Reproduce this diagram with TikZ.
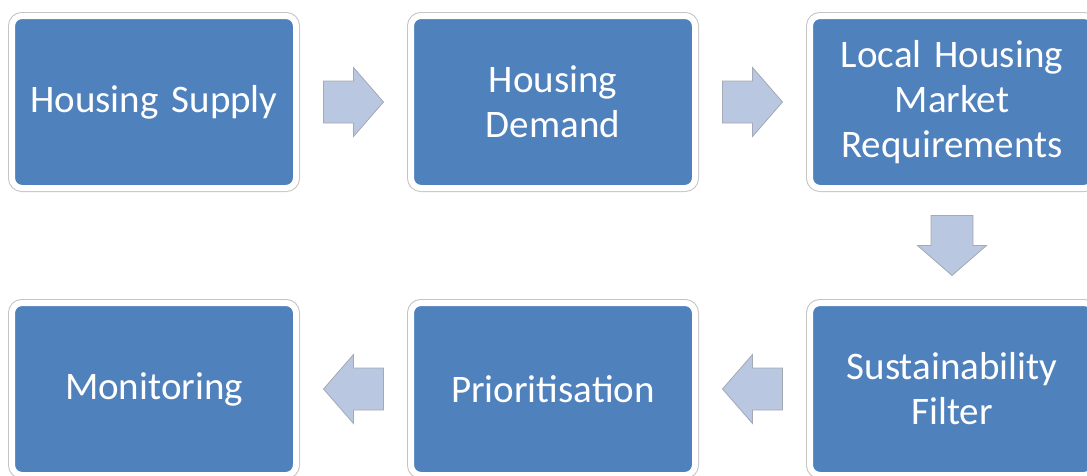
\documentclass[tikz,border=0pt]{standalone}
\usepackage{fontspec}
\setmainfont{Carlito}
\usetikzlibrary{positioning,calc}
\definecolor{stageblue}{HTML}{4F81BD}
\definecolor{framegray}{HTML}{C4C4C4}
\definecolor{arrowfill}{HTML}{B9C7E0}
\definecolor{arrowline}{HTML}{A3A9B5}

\begin{document}
\begin{tikzpicture}[
x=1pt, y=-1pt,
node distance=115pt,
  stage/.style = {rectangle, rounded corners=10pt,% blue boxes with white frame
                  fill=stageblue, draw=white, line width=6pt,
                  preaction={draw=framegray, line width=8pt},
                  minimum width=284pt, minimum height=172pt,
                  inner sep=0pt, outer sep=0pt,
                  text=white, text width=270pt, align=center,
                  font=\fontsize{39}{45}\selectfont},
  flowarrow/.pic = {% block arrow between two stages
      \path[draw=arrowline, fill=arrowfill, line width=0.8pt]
        (-30,-21) -- (0,-21) -- (0,-34.5) -- (30,0)
        -- (0,34.5) -- (0,21) -- (-30,21) -- cycle;
                   },
                        ]
\clip (0,0) rectangle (1087,475);
\node[stage] (supply) at (154,102) {Housing Supply};
\node[stage, right=of supply] (demand) {Housing\\Demand};
\node[stage, right=of demand] (market) {Local Housing\\Market\\Requirements};
\node[stage, below=of market] (filter) {Sustainability\\Filter};
\node[stage, left=of filter] (prior) {Prioritisation};
\node[stage, left=of prior] (monitor) {Monitoring};
% arrows
\pic at ($(supply.east)!0.5!(demand.west)$) {flowarrow};
\pic at ($(demand.east)!0.5!(market.west)$) {flowarrow};
\pic[rotate=-90] at ($(market.south)!0.5!(filter.north)$) {flowarrow};
\pic[rotate=180] at ($(filter.west)!0.5!(prior.east)$) {flowarrow};
\pic[rotate=180] at ($(prior.west)!0.5!(monitor.east)$) {flowarrow};
\end{tikzpicture}
\end{document}
